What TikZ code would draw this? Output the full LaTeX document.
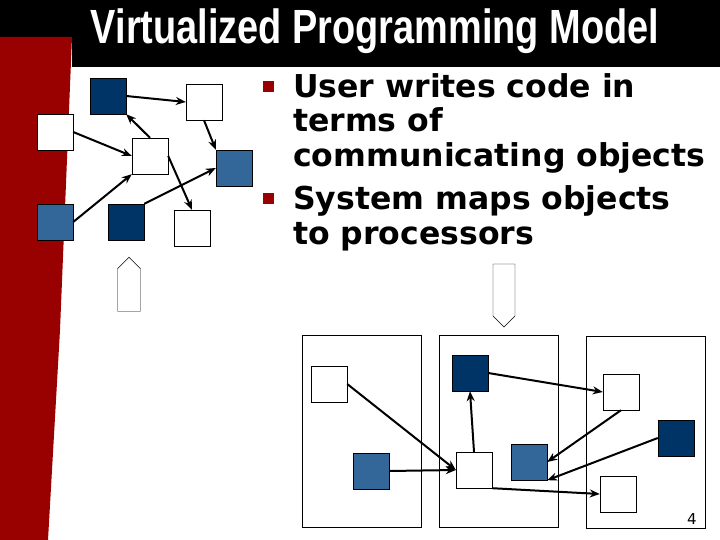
\documentclass[tikz,border=0pt]{standalone}
\usepackage{fontspec}
\setmainfont{DejaVu Sans}
\newfontfamily\titlefont{Liberation Sans}
\usetikzlibrary{arrows.meta,shapes.arrows}
\definecolor{dkb}{HTML}{003366}
\definecolor{mdb}{HTML}{336699}
\definecolor{rd}{HTML}{990000}
\tikzset{
 sq/.style={draw=black,minimum size=36pt,inner sep=0pt,fill=#1},
 sq/.default=white,
 conn/.style={-{Stealth[length=10pt,width=8pt]},line width=2pt},
 proc/.style={draw=black,line width=0.8pt,minimum width=119pt,minimum height=192pt,inner sep=0pt},
 bul/.style={fill=rd,minimum size=11pt,inner sep=0pt},
 txt/.style={anchor=base west,inner sep=0pt,font=\fontsize{31.5}{34}\selectfont\bfseries}
}
\begin{document}
\begin{tikzpicture}[x=1pt,y=-1pt]
\useasboundingbox (0,0) rectangle (720,540);
\fill[white] (0,0) rectangle (720,540);
\fill[black] (0,0) -- (720,0) -- (720,67) -- (72,67) -- (72,37) -- (0,37) -- cycle;
\fill[rd] (0,37) -- (72,37) -- (60,330) -- (48,540) -- (0,540) -- cycle;
\node[text=white,inner sep=0pt,anchor=center] (title) at (375,31) {\titlefont\fontsize{48}{52}\selectfont\bfseries\scalebox{0.79}[1]{Virtualized Programming Model}};
% top-left graph
\node[sq=dkb] (a) at (108,96) {};
\node[sq] (b) at (204,102) {};
\node[sq] (c) at (55,132) {};
\node[sq] (d) at (150,156) {};
\node[sq=mdb] (e) at (234,168) {};
\node[sq=mdb] (f) at (55,222) {};
\node[sq=dkb] (g) at (126,222) {};
\node[sq] (h) at (192,228) {};
\draw[conn] (a.east) -- (b.west);
\draw[conn] (c.east) -- (d.west);
\draw[conn] (d.north) -- (a.south east);
\draw[conn] (b.south) -- (e.north west);
\draw[conn] (f.east) -- (d.south west);
\draw[conn] (g.north east) -- (e.west);
\draw[conn] (d.east) -- (h.north);
\node[single arrow,draw=black,fill=white,shape border rotate=90,minimum height=54pt,minimum width=23pt,single arrow head extend=0pt,single arrow tip angle=90,inner sep=3pt] (up) at (129,290) {};
% text
\node[bul] (b1) at (268,87) {};
\node[bul] (b2) at (268,199) {};
\node[txt] (t1) at (293,98) {User writes code in};
\node[txt] (t2) at (293,132) {terms of};
\node[txt] (t3) at (293,167) {communicating objects};
\node[txt] (t4) at (293,210) {System maps objects};
\node[txt] (t5) at (293,244) {to processors};
\node[single arrow,draw=black,fill=white,shape border rotate=270,minimum height=63pt,minimum width=22pt,single arrow head extend=0pt,single arrow tip angle=90,inner sep=3pt] (down) at (504,290) {};
% processors
\node[proc] (P1) at (361.5,431) {};
\node[proc] (P2) at (499,431) {};
\node[proc] (P3) at (646,432) {};
\node[sq] (p1) at (329,384) {};
\node[sq=mdb] (p2) at (371,471) {};
\node[sq=dkb] (q1) at (470,373) {};
\node[sq] (q2) at (474,470) {};
\node[sq=mdb] (q3) at (529,462) {};
\node[sq] (r1) at (621,392) {};
\node[sq=dkb] (r2) at (676,438) {};
\node[sq] (r3) at (618,494) {};
\draw[conn] (p1.east) -- (q2.west);
\draw[conn] (p2.east) -- (q2.west);
\draw[conn] (q2.north) -- (q1.south);
\draw[conn] (q1.east) -- (r1.west);
\draw[conn] (r1.south) -- (q3.east);
\draw[conn] (r2.west) -- (q3.south east);
\draw[conn] (q2.south east) -- (r3.west);
\node[font=\fontsize{15}{18}\selectfont] (num) at (692,519) {4};
\end{tikzpicture}
\end{document}
